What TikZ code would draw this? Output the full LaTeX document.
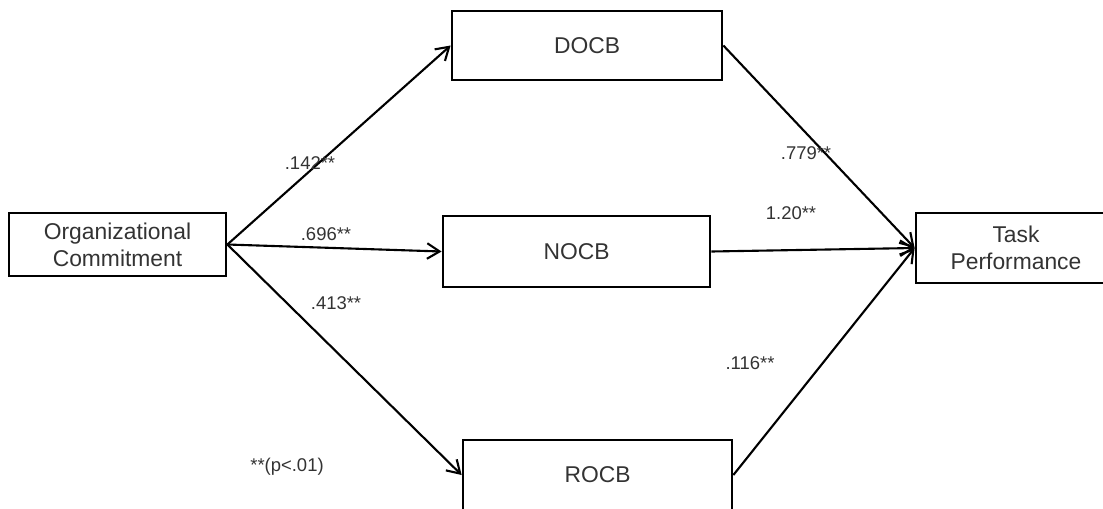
\documentclass[tikz,border=0pt]{standalone}
\usepackage{fontspec}
\setmainfont{Liberation Sans}
\usetikzlibrary{arrows.meta}
\tikzset{>={Straight Barb[length=2.5mm, width=3.1mm]}}

\begin{document}
\begin{tikzpicture}[x=0.02cm, y=-0.02cm,
    box/.style={draw, line width=1.6pt, align=center, inner sep=0pt, text=black!80, font=\fontsize{13}{15.5}\selectfont},
    coef/.style={text=black!80, font=\fontsize{10.5}{12}\selectfont}]
    \useasboundingbox (0,0) rectangle (1103,508);
    \clip (0,0) rectangle (1103,508);
    \node [box, minimum width=4.34cm, minimum height=1.26cm] (oc) at (117.5,244.5) {Organizational\\Commitment};
    \node [box, minimum width=5.4cm, minimum height=1.38cm] (docb) at (587,45.5) {DOCB};
    \node [box, minimum width=5.34cm, minimum height=1.42cm] (nocb) at (576.5,251.5) {NOCB};
    \node [box, minimum width=5.38cm, minimum height=1.4cm] (rocb) at (597.5,475) {ROCB};
    \node [box, minimum width=4cm, minimum height=1.4cm] (tp) at (1016,248) {Task\\Performance};
    \draw [->, line width=1.2pt] (oc.east) -- (docb.west);
    \draw [->, line width=1.2pt] (oc.east) -- (nocb.west);
    \draw [->, line width=1.2pt] (oc.east) -- (rocb.west);
    \draw [->, line width=1.2pt] (docb.east) -- (tp.west);
    \draw [->, line width=1.2pt] (nocb.east) -- (tp.west);
    \draw [->, line width=1.2pt] (rocb.east) -- (tp.west);
    \node [coef] (c1) at (310,163) {.142**};
    \node [coef] (c2) at (326,234) {.696**};
    \node [coef] (c3) at (336,303) {.413**};
    \node [coef] (c4) at (806,153) {.779**};
    \node [coef] (c5) at (791,213) {1.20**};
    \node [coef] (c6) at (750,363) {.116**};
    \node [coef] (sig) at (287,467) {**(p<.01)};
\end{tikzpicture}
\end{document}
